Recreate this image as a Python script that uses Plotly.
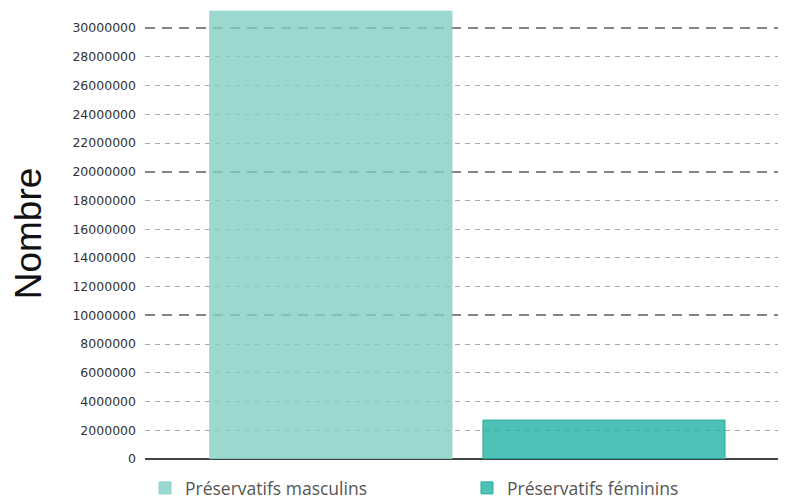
import plotly.graph_objects as go

series_names = ["Préservatifs masculins", "Préservatifs féminins"]
series_values = [31180000, 2710000]
fill_colors = ["rgba(130,206,195,0.8)", "rgba(33,178,163,0.8)"]
line_colors = ["rgb(140,210,200)", "rgb(40,172,158)"]
legend_ids = ["legend", "legend2"]
category = [""]
y_tickvals = list(range(0, 30000001, 2000000))
y_ticktext = [str(v) for v in y_tickvals]
major_step = 10000000
minor_gridvals = [v for v in y_tickvals if v % major_step != 0]
y_max = 31400000

W, H = 778, 491

fig = go.Figure()
for name, val, fc, lc, lg in zip(series_names, series_values, fill_colors, line_colors, legend_ids):
    fig.add_trace(go.Bar(
        x=category, y=[val], name=name, legend=lg,
        marker=dict(color=fc, line=dict(color=lc, width=1)),
        hoverinfo="skip",
    ))

# invisible traces to activate overlay axes used for the grid lines
for ax in ["y2", "y3"]:
    fig.add_trace(go.Scatter(x=category, y=[0], yaxis=ax, mode="markers",
                             marker=dict(opacity=0), showlegend=False, hoverinfo="skip"))

legend_font = dict(family="Open Sans", size=17.5, color="#555")
fig.update_layout(
    width=W, height=H,
    margin=dict(l=137, r=0, t=0, b=40, autoexpand=False),
    paper_bgcolor="white", plot_bgcolor="rgba(0,0,0,0)",
    barmode="group", bargap=0.153, bargroupgap=0.1136,
    showlegend=True,
    legend=dict(orientation="h", xref="container", yref="container",
                x=137 / W, xanchor="left", y=11 / H, yanchor="middle",
                font=legend_font, bgcolor="rgba(0,0,0,0)", borderwidth=0),
    legend2=dict(orientation="h", xref="container", yref="container",
                 x=459 / W, xanchor="left", y=11 / H, yanchor="middle",
                 font=legend_font, bgcolor="rgba(0,0,0,0)", borderwidth=0),
    xaxis=dict(range=[-0.5, 0.494], showticklabels=False, showgrid=False,
               zeroline=False, showline=False, ticks="", automargin=False),
    yaxis=dict(range=[0, y_max], tickvals=y_tickvals, ticktext=y_ticktext,
               showgrid=False,
               zeroline=True, zerolinecolor="#444", zerolinewidth=1.5,
               tickfont=dict(family="DejaVu Sans", size=12.5, color="#333"),
               ticks="", ticklabelstandoff=8, automargin=False,
               title=dict(text="Nombre", font=dict(family="Liberation Sans", size=37, color="#111"),
                          standoff=22)),
    yaxis2=dict(range=[0, y_max], overlaying="y", dtick=major_step, tick0=0,
                showgrid=True, gridcolor="rgba(125,125,125,0.95)", griddash="10px,7px", gridwidth=2,
                showticklabels=False, zeroline=False, ticks="", automargin=False),
    yaxis3=dict(range=[0, y_max], overlaying="y", tickvals=minor_gridvals,
                showgrid=True, gridcolor="rgba(160,160,160,0.9)", griddash="5px,5px", gridwidth=1.3,
                showticklabels=False, zeroline=False, ticks="", automargin=False),
)

fig.write_html("out.html")
